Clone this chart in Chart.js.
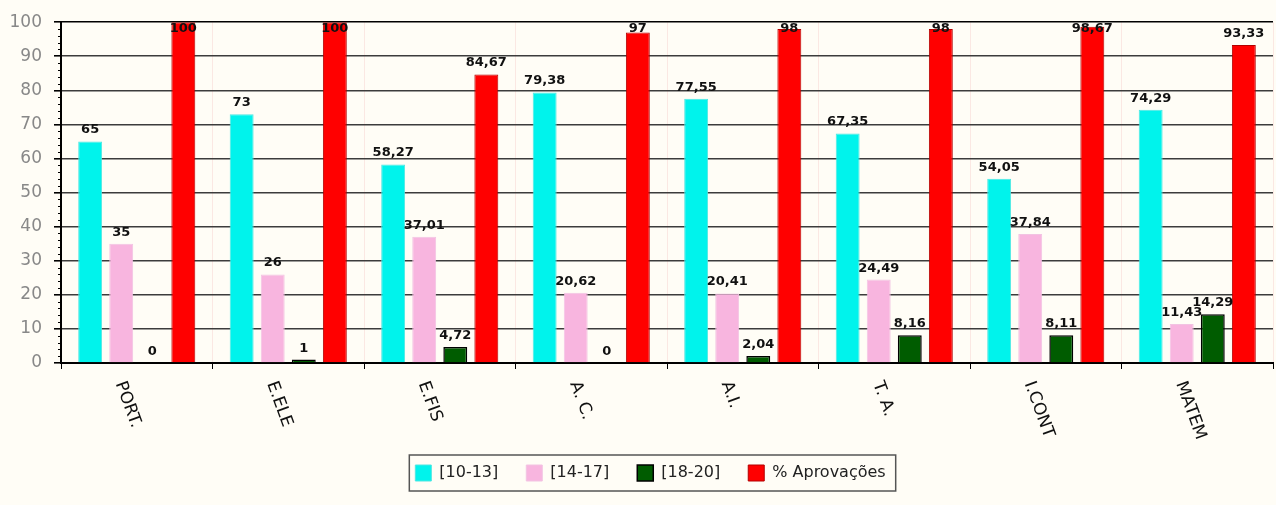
<!DOCTYPE html>
<html>
<head>
<meta charset="utf-8">
<script src="https://cdn.jsdelivr.net/npm/chart.js@4"></script>
<style>
  html, body { margin: 0; padding: 0; background: #fffdf6; }
  #wrap { position: relative; width: 1276px; height: 505px; }
</style>
</head>
<body>
<div id="wrap"><canvas id="chart"></canvas></div>
<script>
const categories = ['PORT.', 'E.ELE', 'E.FIS', 'A. C.', 'A.I.', 'T. A.', 'I.CONT', 'MATEM'];
const grade10to13 = [65, 73, 58.27, 79.38, 77.55, 67.35, 54.05, 74.29];
const grade14to17 = [35, 26, 37.01, 20.62, 20.41, 24.49, 37.84, 11.43];
const grade18to20 = [0, 1, 4.72, 0, 2.04, 8.16, 8.11, 14.29];
const approvals = [100, 100, 84.67, 97, 98, 98, 98.67, 93.33];
const yTicks = [0, 10, 20, 30, 40, 50, 60, 70, 80, 90, 100];

const fmt = v => String(v).replace('.', ',');

// value labels above each bar
const valueLabels = {
    id: 'valueLabels',
    afterDatasetsDraw(chart) {
        const ctx = chart.ctx;
        const top = chart.chartArea.top;
        ctx.save();
        ctx.font = 'bold 13px "DejaVu Sans"';
        ctx.fillStyle = '#111';
        ctx.textAlign = 'center';
        ctx.textBaseline = 'alphabetic';
        chart.data.datasets.forEach((ds, i) => {
            chart.getDatasetMeta(i).data.forEach((bar, j) => {
                const y = Math.max(bar.y - 8, top + 10);
                ctx.fillText(fmt(ds.data[j]), bar.x, y);
            });
        });
        ctx.restore();
    }
};

// rotated category labels, minor y ticks, legend frame
const extras = {
    id: 'extras',
    afterLayout(chart) {
        // legend sits a little right of the page centre
        chart.legend.left += 14;
        chart.legend.right += 14;
    },
    afterDraw(chart) {
        const ctx = chart.ctx;
        const x = chart.scales.x;
        const y = chart.scales.y;
        ctx.save();
        ctx.font = '17px "DejaVu Sans"';
        ctx.fillStyle = '#111';
        ctx.textAlign = 'left';
        ctx.textBaseline = 'middle';
        categories.forEach((c, i) => {
            const px = x.getPixelForTick(i);
            ctx.save();
            ctx.translate(px - 17, x.top + 19);
            ctx.rotate(70 * Math.PI / 180);
            ctx.fillText(c, 0, 0);
            ctx.restore();
        });

        ctx.strokeStyle = '#000';
        ctx.lineWidth = 1;
        for (let v = 2; v < 100; v += 2) {
            if (v % 10 === 0) continue;
            const py = Math.round(y.getPixelForValue(v)) + 0.5;
            ctx.beginPath();
            ctx.moveTo(y.right - 3, py);
            ctx.lineTo(y.right, py);
            ctx.stroke();
        }

        const lg = chart.legend;
        const pad = lg.options.labels.padding;
        const start = (lg.left + pad + lg.right - lg.lineWidths[0]) / 2;
        const w = lg.lineWidths[0] - pad;
        const itemTop = lg.top + pad;
        ctx.strokeStyle = '#555';
        ctx.lineWidth = 1.5;
        ctx.strokeRect(start - 6, itemTop - 10, w + 16, 36);
        ctx.restore();
    }
};

new Chart(document.getElementById('chart'), {
    type: 'bar',
    data: {
        labels: categories,
        datasets: [
            { label: '[10-13]', data: grade10to13, backgroundColor: '#00f3ec', borderColor: '#4ee6e2', borderWidth: 1 },
            { label: '[14-17]', data: grade14to17, backgroundColor: '#f8b5df', borderColor: '#f2c3e2', borderWidth: 1 },
            { label: '[18-20]', data: grade18to20, backgroundColor: '#005c00', borderColor: '#000', borderWidth: 1.5 },
            { label: '% Aprovações', data: approvals, backgroundColor: '#ff0000', borderColor: '#b30000', borderWidth: 1 }
        ]
    },
    options: {
        responsive: true,
        maintainAspectRatio: false,
        animation: false,
        datasets: { bar: { barPercentage: 0.77, categoryPercentage: 0.82 } },
        layout: { padding: { left: 0, right: 3, top: 19, bottom: 14 } },
        plugins: {
            legend: {
                position: 'bottom',
                labels: {
                    boxWidth: 16, boxHeight: 16, padding: 28,
                    color: '#222',
                    font: { family: 'DejaVu Sans', size: 16 }
                }
            },
            tooltip: { enabled: false }
        },
        scales: {
            x: {
                offset: true,
                grid: {
                    offset: true,
                    color: 'rgba(240,170,170,0.25)',
                    tickColor: '#000',
                    tickLength: 6,
                    lineWidth: 1
                },
                border: { color: '#000', width: 2 },
                ticks: { display: false },
                afterFit(s) { s.height = 74; }
            },
            y: {
                min: 0, max: 100,
                afterBuildTicks(s) { s.ticks = yTicks.map(v => ({ value: v })); },
                grid: {
                    color: ctx => ctx.tick && ctx.tick.value === 100 ? '#000' : '#3c3c3c',
                    lineWidth: 1.6,
                    tickColor: '#000',
                    tickLength: 7
                },
                border: { color: '#000', width: 2 },
                ticks: {
                    color: '#888',
                    padding: 12,
                    font: { family: 'DejaVu Sans', size: 17 }
                },
                afterFit(s) { s.width = 61; }
            }
        }
    },
    plugins: [valueLabels, extras]
});
</script>
</body>
</html>
